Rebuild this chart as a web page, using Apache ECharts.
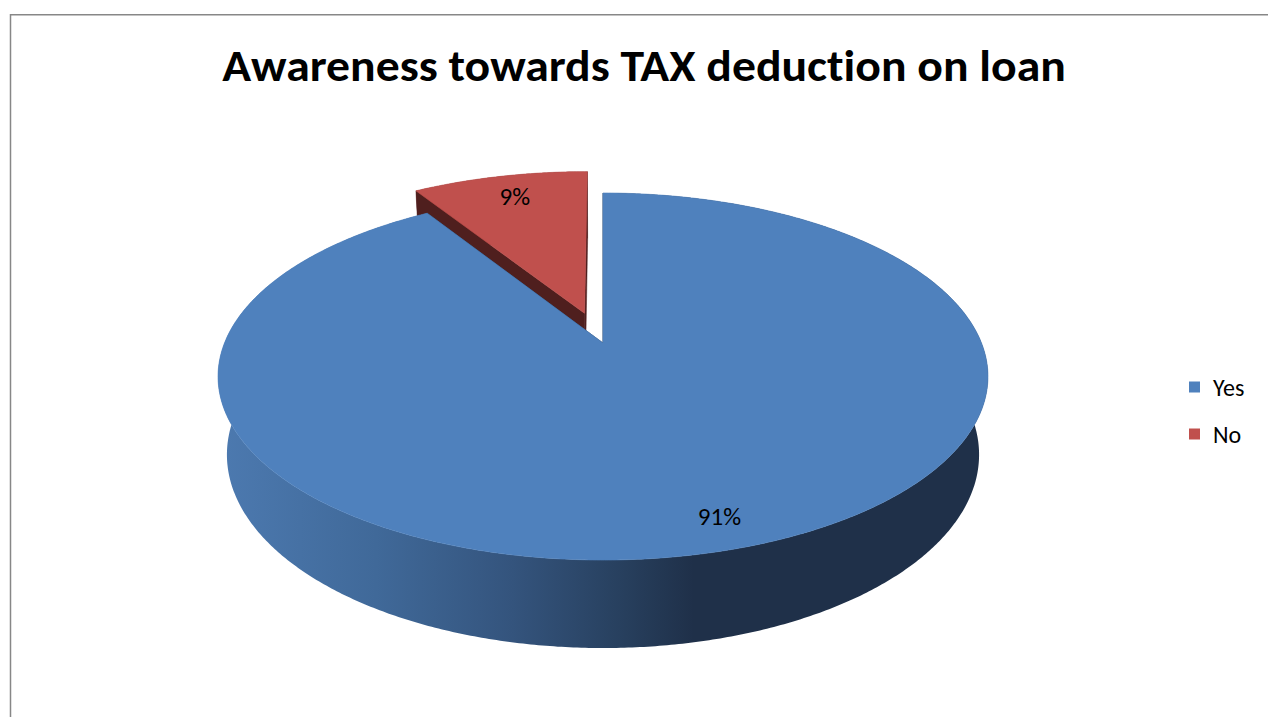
<!DOCTYPE html>
<html>
<head>
<meta charset="utf-8">
<script src="https://cdn.jsdelivr.net/npm/echarts@6/dist/echarts.min.js"></script>
<style>
  html, body { margin: 0; padding: 0; background: #ffffff; }
  #chart { width: 1268px; height: 717px; }
  #chart svg text {
    font-variant-ligatures: none !important;
    font-feature-settings: "liga" 0, "clig" 0 !important;
  }
</style>
</head>
<body>
<div id="chart"></div>
<script>
// ---- data ----
const titleText = 'Awareness towards TAX deduction on loan';
const categories = ['Yes', 'No'];
const shares = [91, 9];

// ---- look ----
const fontFamily = 'Carlito, Lato, sans-serif';
const sliceColors = ['#4f81bd', '#c0504d'];
const sideColors = ['#22364f', '#4f1f1e'];
// horizontal shading of the curved rim, left (lit) to right (shadow)
const rimShades = [
  [[0, '#4c79af'], [0.2, '#406999'], [0.38, '#34547d'], [0.53, '#273f5d'], [0.62, '#1f3049'], [1, '#1f3049']],
  [[0, '#7a3230'], [1, '#4f1f1e']]
];
// small pixel nudges for the percentage labels
const labelNudge = [[11, 3], [4, 2]];

// 3-D pie geometry: centre in px, radius in px, camera distance and tilt,
// thickness and explode distance in radius units
const pie = {
  cx: 603, cy: 343,
  radius: 378.5,
  viewDist: 4.838,
  tiltDeg: 27.95,
  thickness: 0.236,
  explode: [0, 0.18],
  labelAt: 0.85
};

const tilt = pie.tiltDeg * Math.PI / 180;
const sinT = Math.sin(tilt), cosT = Math.cos(tilt);
const focal = pie.radius * pie.viewDist;

// perspective projection of a point on the pie: u to the right, v toward the viewer, z up
function project(u, v, z) {
  const d = pie.viewDist - v * cosT - z * sinT;
  return [pie.cx + focal * u / d, pie.cy + focal * (v * sinT - z * cosT) / d];
}

const total = shares.reduce((a, b) => a + b, 0);

function makeRenderer(idx) {
  return function (params, api) {
    const value = api.value(0);
    let before = 0;
    for (let k = 0; k < idx; k++) before += shares[k];
    // angles measured clockwise from 12 o'clock
    const a1 = before / total * 2 * Math.PI;
    const a2 = (before + value) / total * 2 * Math.PI;
    const mid = (a1 + a2) / 2;
    const ex = pie.explode[idx];
    const ou = ex * Math.sin(mid), ov = -ex * Math.cos(mid);
    const h = pie.thickness;
    const pt = (r, a, z) => project(ou + r * Math.sin(a), ov - r * Math.cos(a), z);

    const steps = Math.max(2, Math.ceil((a2 - a1) / (Math.PI / 360)));
    const topArc = [], botArc = [];
    for (let s = 0; s <= steps; s++) {
      const a = a1 + (a2 - a1) * s / steps;
      topArc.push(pt(1, a, 0));
      botArc.push(pt(1, a, -h));
    }
    const apexTop = pt(0, 0, 0), apexBot = pt(0, 0, -h);

    const rimFill = new echarts.graphic.LinearGradient(
      pie.cx - pie.radius, 0, pie.cx + pie.radius, 0,
      rimShades[idx].map(([o, c]) => ({ offset: o, color: c })), true);

    const children = [];
    // curved rim
    children.push({
      type: 'polygon',
      shape: { points: topArc.concat(botArc.slice().reverse()) },
      style: { fill: rimFill, stroke: null },
      z2: 1
    });
    // cut faces along the two radii
    [[topArc[0], botArc[0]], [topArc[steps], botArc[steps]]].forEach(([t, b]) => {
      children.push({
        type: 'polygon',
        shape: { points: [apexTop, t, b, apexBot] },
        style: { fill: sideColors[idx], stroke: sideColors[idx], lineWidth: 0.5 },
        z2: 2
      });
    });
    // top face
    children.push({
      type: 'polygon',
      shape: { points: [apexTop].concat(topArc) },
      style: { fill: sliceColors[idx], stroke: sliceColors[idx], lineWidth: 0.6 },
      z2: 3
    });
    // percentage label
    const lp = pt(pie.labelAt, mid, 0);
    children.push({
      type: 'text',
      x: lp[0] + labelNudge[idx][0], y: lp[1] + labelNudge[idx][1],
      style: {
        text: Math.round(value / total * 100) + '%',
        fill: '#000000',
        font: '25px ' + fontFamily,
        align: 'center',
        verticalAlign: 'middle'
      },
      z2: 4
    });
    return { type: 'group', children: children };
  };
}

const chart = echarts.init(document.getElementById('chart'), null, { renderer: 'svg' });

chart.setOption({
  animation: false,
  backgroundColor: '#ffffff',
  legend: {
    data: categories,
    orient: 'vertical',
    left: 1189,
    top: 375,
    padding: 0,
    itemWidth: 11,
    itemHeight: 11,
    itemGap: 23,
    icon: 'rect',
    textStyle: { fontFamily: fontFamily, fontSize: 24, color: '#000000', lineHeight: 24, padding: [0, 0, 0, 8] }
  },
  graphic: [{
    type: 'rect',
    silent: true,
    shape: { x: 10.5, y: 14.8, width: 1300, height: 800 },
    style: { fill: null, stroke: '#878787', lineWidth: 1.5 }
  }, {
    // chart title
    type: 'text',
    silent: true,
    x: 644,
    y: 65,
    scaleX: 1.06,
    style: {
      text: titleText,
      font: 'bold 45px ' + fontFamily,
      fill: '#000000',
      align: 'center',
      verticalAlign: 'middle'
    }
  }],
  series: categories.map((name, i) => ({
    type: 'custom',
    name: name,
    coordinateSystem: 'none',
    z: i === 0 ? 3 : 2,
    itemStyle: { color: sliceColors[i] },
    renderItem: makeRenderer(i),
    data: [shares[i]]
  }))
});
</script>
</body>
</html>
